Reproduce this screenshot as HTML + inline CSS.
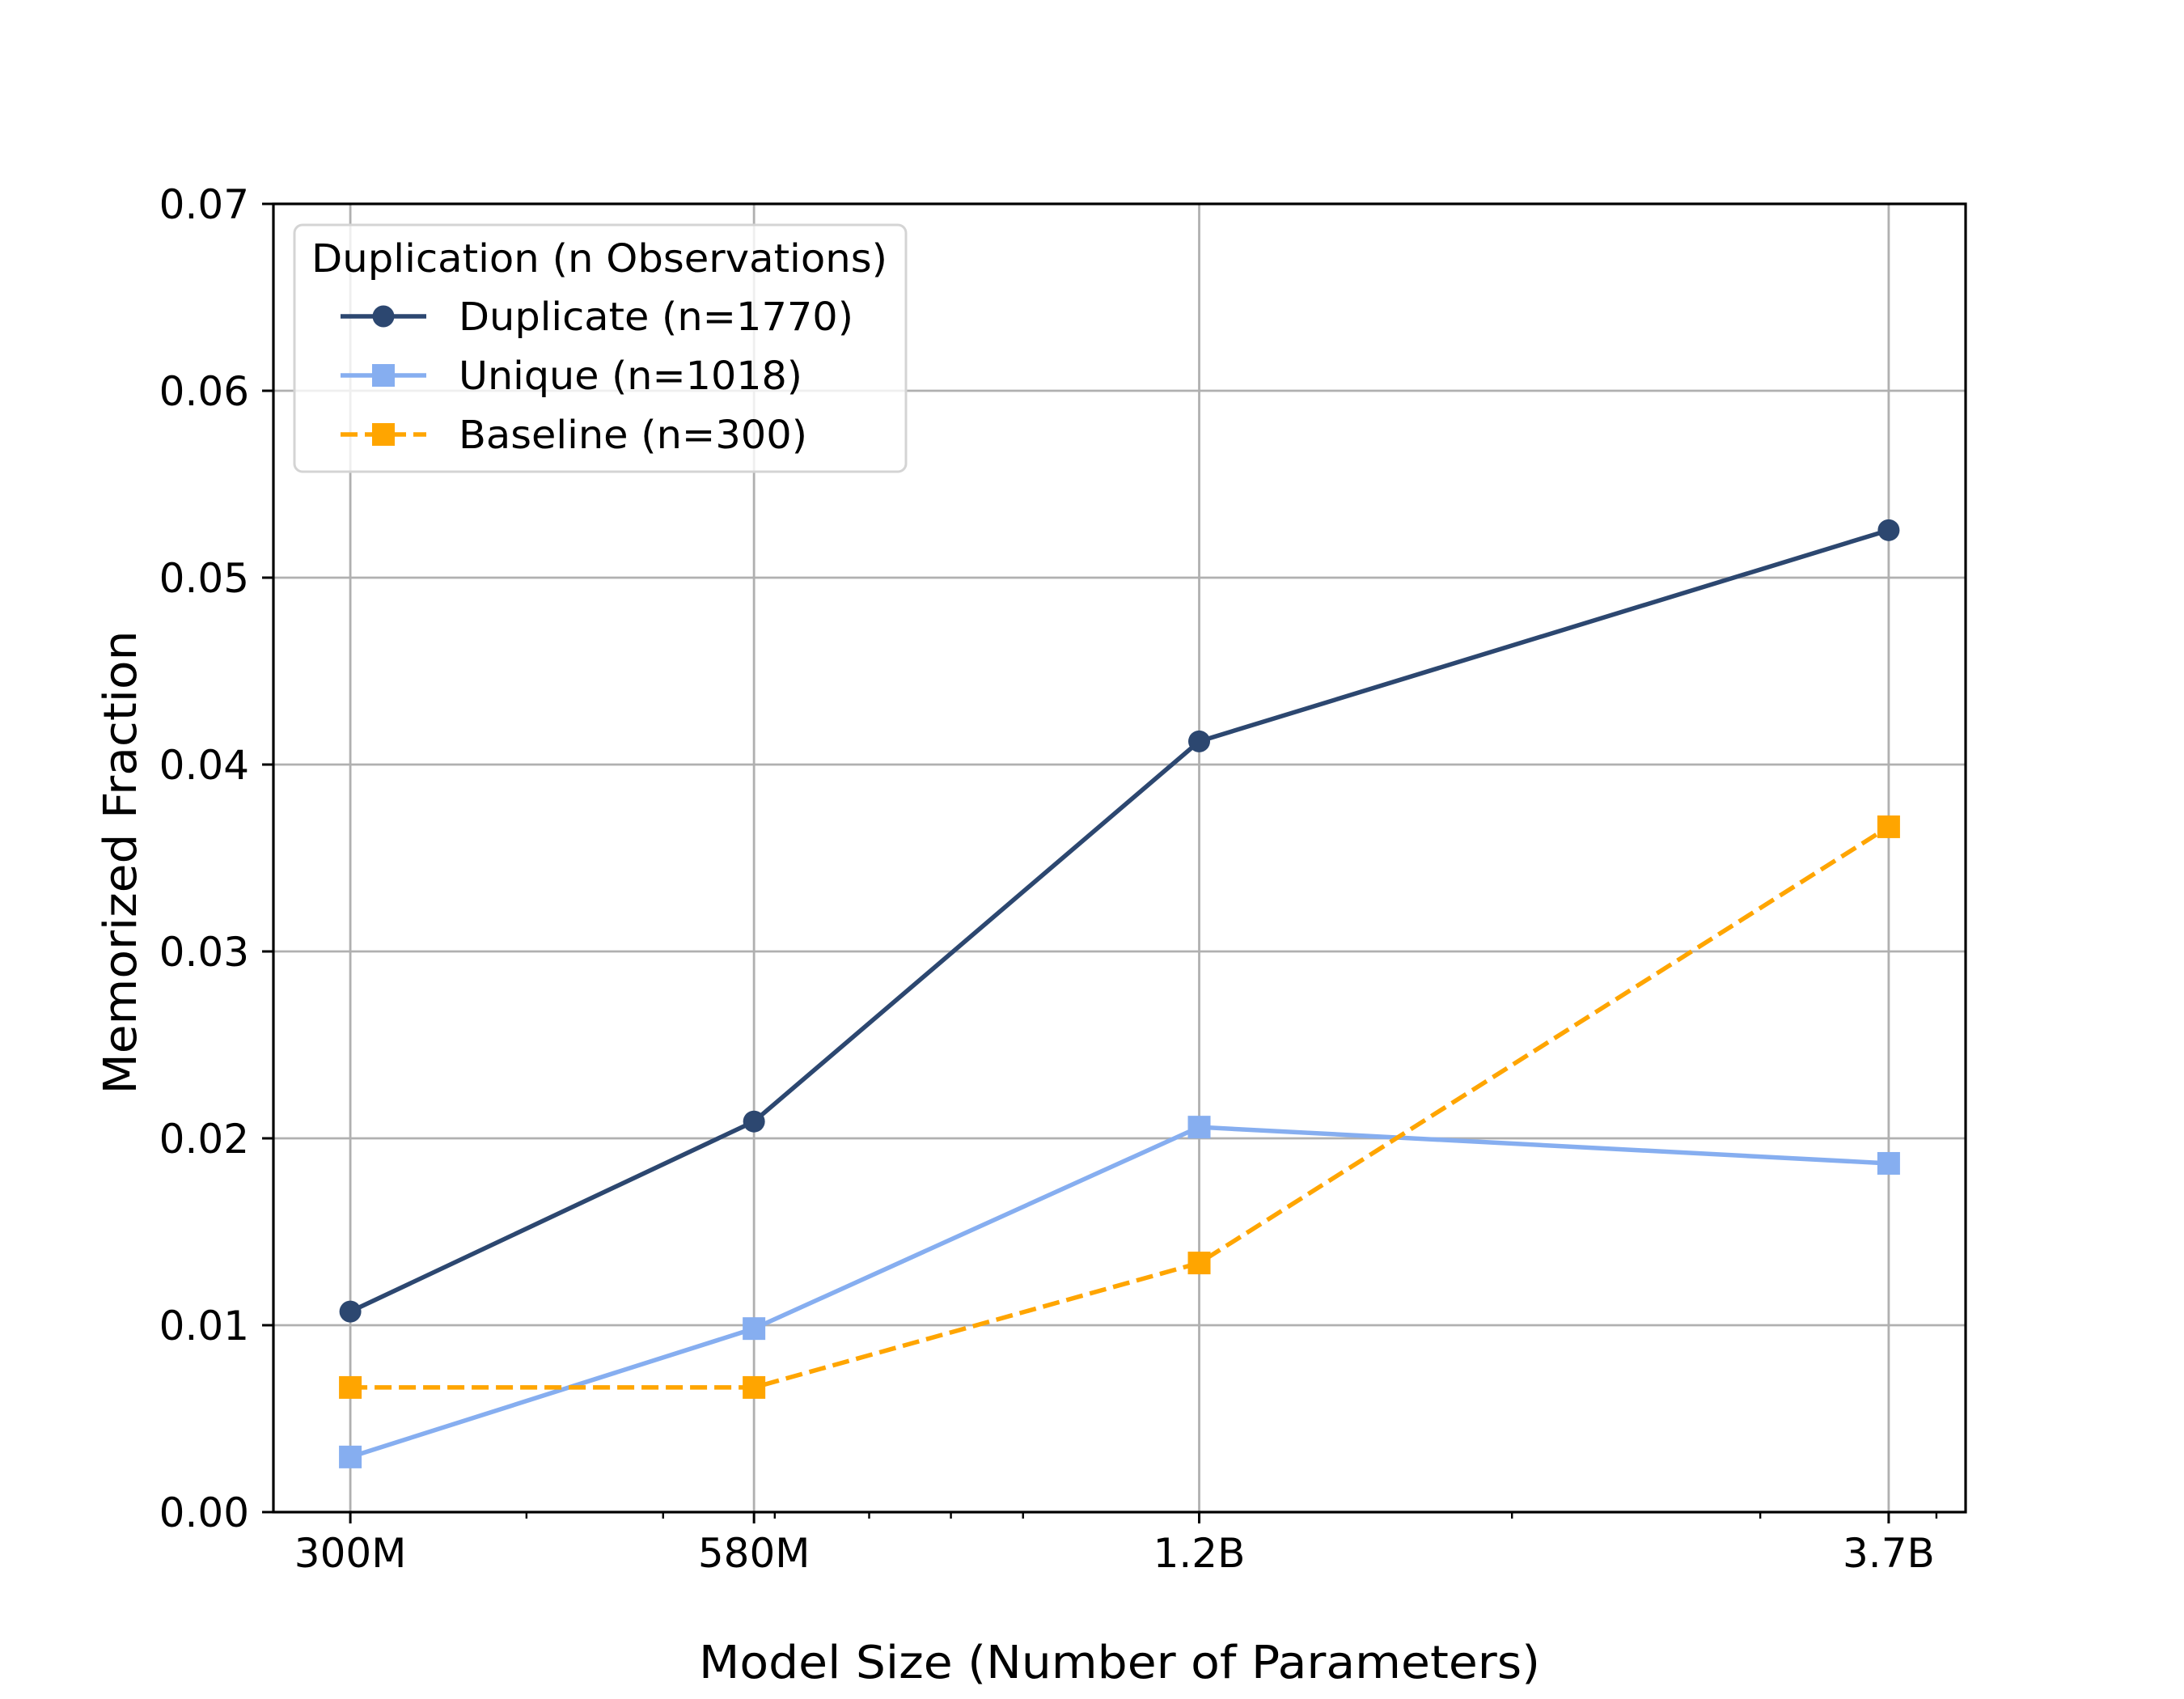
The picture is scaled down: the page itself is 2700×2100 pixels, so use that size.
<!DOCTYPE html>
<html><head><meta charset="utf-8"><style>
html,body{margin:0;padding:0;background:#fff;}
svg{display:block;font-family:"DejaVu Sans","Liberation Sans",sans-serif;}
</style></head><body>
<svg id="chart" width="2700" height="2100" viewBox="0 0 2700 2100" xmlns="http://www.w3.org/2000/svg">
<rect width="2700" height="2100" fill="#fff"/>
<g id="grid"></g>
<g id="series"></g>
<g id="axes"></g>
<g id="legend"></g>
</svg>
<script>
const categories = ["300M", "580M", "1.2B", "3.7B"];
const paramCounts = [300e6, 580e6, 1.2e9, 3.7e9];
const duplicateValues = [0.01073, 0.0209, 0.04124, 0.05254];
const uniqueValues = [0.00295, 0.00982, 0.0206, 0.01866];
const baselineValues = [0.00667, 0.00667, 0.01333, 0.03667];
const yTicks = [0, 0.01, 0.02, 0.03, 0.04, 0.05, 0.06, 0.07];
const yTickLabels = ["0.00", "0.01", "0.02", "0.03", "0.04", "0.05", "0.06", "0.07"];
const minorTicks = [4e8, 5e8, 6e8, 7e8, 8e8, 9e8, 2e9, 3e9, 4e9];

const NS = "http://www.w3.org/2000/svg";
const L = 338, R = 2430, T = 252, B = 1869;
const lx0 = Math.log10(300e6), lx1 = Math.log10(3.7e9), pad = (lx1 - lx0) * 0.05;
function xScale(v){ return L + (Math.log10(v) - (lx0 - pad)) / ((lx1 + pad) - (lx0 - pad)) * (R - L); }
function yScale(v){ return B - v / 0.07 * (B - T); }
function mk(tag, attrs, parent){
  const e = document.createElementNS(NS, tag);
  for (const k in attrs) e.setAttribute(k, attrs[k]);
  parent.appendChild(e); return e;
}
const grid = document.getElementById('grid');
const axes = document.getElementById('axes');
const series = document.getElementById('series');
const legend = document.getElementById('legend');

yTicks.forEach((t, i) => {
  const y = yScale(t);
  const g = mk('line', {x1:L, x2:R, y1:y, y2:y, stroke:'#b0b0b0', 'stroke-width':2.8}, grid);
  
  
  const tk = mk('line', {x1:L-14, x2:L, y1:y, y2:y, stroke:'#000', 'stroke-width':3}, axes);
  
  
  const tx = mk('text', {x:L-30, y:y+18, 'text-anchor':'end', 'font-size':50, fill:'#000'}, axes);
  tx.textContent = yTickLabels[i];
  
  
});
paramCounts.forEach((p, i) => {
  const x = xScale(p);
  const g = mk('line', {x1:x, x2:x, y1:T, y2:B, stroke:'#b0b0b0', 'stroke-width':2.8}, grid);
  
  
  const tk = mk('line', {x1:x, x2:x, y1:B, y2:B+14, stroke:'#000', 'stroke-width':3}, axes);
  
  
  const tx = mk('text', {x:x, y:B+68, 'text-anchor':'middle', 'font-size':50, fill:'#000'}, axes);
  tx.textContent = categories[i];
  
  
});
minorTicks.forEach(p => {
  const x = xScale(p);
  const tk = mk('line', {x1:x, x2:x, y1:B, y2:B+8, stroke:'#000', 'stroke-width':2.4}, axes);
  
  
});
const frame = mk('rect', {x:L, y:T, width:R-L, height:B-T, fill:'none', stroke:'#000', 'stroke-width':3.2}, axes);



const xl = mk('text', {x:(L+R)/2, y:2074, 'text-anchor':'middle', 'font-size':56, fill:'#000', textLength:1040, lengthAdjust:'spacingAndGlyphs'}, axes);
xl.textContent = 'Model Size (Number of Parameters)';


const yl = mk('text', {x:0, y:0, 'text-anchor':'middle', 'font-size':56, fill:'#000', textLength:573, lengthAdjust:'spacingAndGlyphs', transform:'translate(168,1066) rotate(-90)'}, axes);
yl.textContent = 'Memorized Fraction';



function drawSeries(vals, color, dashed, marker, name){
  const g = mk('g', {}, series);
  
  
  const pts = vals.map((v, i) => xScale(paramCounts[i]) + ',' + yScale(v)).join(' ');
  const attrs = {points:pts, fill:'none', stroke:color, 'stroke-width':5.5, 'stroke-linejoin':'round'};
  if (dashed) attrs['stroke-dasharray'] = '21,9';
  const pl = mk('polyline', attrs, g);
  
  
  vals.forEach((v, i) => {
    const x = xScale(paramCounts[i]), y = yScale(v);
    let m;
    if (marker === 'circle') m = mk('circle', {cx:x, cy:y, r:13.5, fill:color}, g);
    else m = mk('rect', {x:x-14, y:y-14, width:28, height:28, fill:color}, g);
    
    
  });
}
drawSeries(uniqueValues, '#86aef0', false, 'square', 'unique-series');
drawSeries(baselineValues, '#ffa500', true, 'square', 'baseline-series');
drawSeries(duplicateValues, '#2c4770', false, 'circle', 'duplicate-series');

// legend
const lb = mk('rect', {x:364, y:278, width:756, height:305, rx:10, fill:'#fff', 'fill-opacity':0.8, stroke:'#d4d4d4', 'stroke-width':3}, legend);


const lt = mk('text', {x:385, y:336, 'font-size':48, fill:'#000', textLength:712, lengthAdjust:'spacingAndGlyphs'}, legend);
lt.textContent = 'Duplication (n Observations)';


const entries = [
  ['Duplicate (n=1770)', '#2c4770', false, 'circle', 391, 'legend-entry-duplicate', 488],
  ['Unique (n=1018)', '#86aef0', false, 'square', 464, 'legend-entry-unique', 425],
  ['Baseline (n=300)', '#ffa500', true, 'square', 537, 'legend-entry-baseline', 431]
];
entries.forEach(e => {
  const g = mk('g', {}, legend);
  
  
  const a = {x1:421, x2:527, y1:e[4], y2:e[4], stroke:e[1], 'stroke-width':5.5};
  if (e[2]) a['stroke-dasharray'] = '21,9';
  mk('line', a, g);
  if (e[3] === 'circle') mk('circle', {cx:474, cy:e[4], r:13.5, fill:e[1]}, g);
  else mk('rect', {x:460, y:e[4]-14, width:28, height:28, fill:e[1]}, g);
  const t = mk('text', {x:567, y:e[4]+17, 'font-size':48, fill:'#000', textLength:e[6], lengthAdjust:'spacingAndGlyphs'}, g);
  t.textContent = e[0];
});
</script>
</body></html>
